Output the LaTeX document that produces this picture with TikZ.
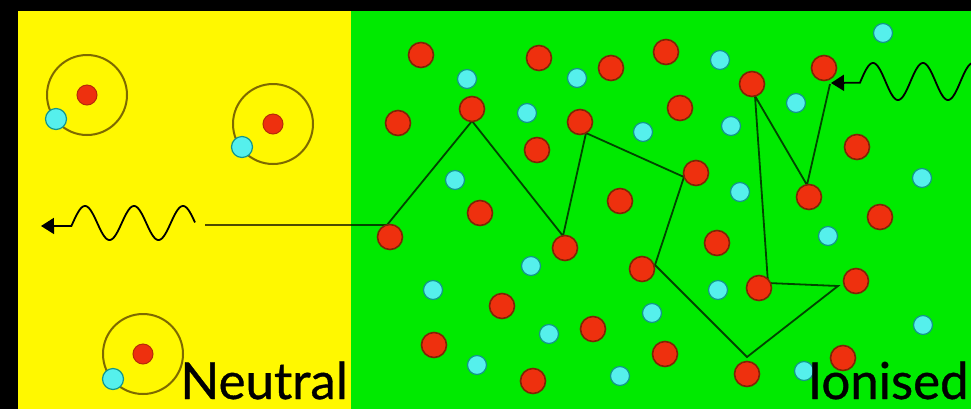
\documentclass[tikz,border=0pt]{standalone}
\usepackage{fontspec}
\setmainfont{Lato}
\newfontfamily\phasefont{Lato}[FakeBold=0.7]
\usetikzlibrary{arrows.meta}

\definecolor{panelyellow}{RGB}{255,248,0}
\definecolor{panelgreen}{RGB}{0,234,0}
\definecolor{ionred}{RGB}{238,48,14}
\definecolor{ionrim}{RGB}{125,38,5}
\definecolor{elcyan}{RGB}{85,240,236}
\definecolor{elrim}{RGB}{20,150,140}
\definecolor{orbitline}{RGB}{125,105,0}

\tikzset{
  ion/.style={circle, fill=ionred, draw=ionrim, line width=0.8pt, minimum size=12.5pt, inner sep=0pt},
  electron/.style={circle, fill=elcyan, draw=elrim, line width=0.6pt, minimum size=9.5pt, inner sep=0pt},
  nucleus/.style={circle, fill=ionred, draw=ionrim!50!ionred, line width=0.5pt, minimum size=10pt, inner sep=0pt},
  orbit/.style={draw=orbitline, line width=1pt},
  track/.style={draw=black, opacity=0.7, line width=0.9pt},
  photon/.style={draw=black, line width=0.9pt, -{Triangle[length=6.5pt,width=8pt]}},
  phasetext/.style={inner sep=0pt, font=\phasefont\fontsize{25.5}{28}\selectfont}
}

\begin{document}
\begin{tikzpicture}[x=0.5pt, y=-0.5pt]
  \useasboundingbox (0,0) rectangle (971,409);
  \clip (0,0) rectangle (971,409);
  \fill[black] (0,0) rectangle (971,409);
  \fill[panelyellow] (18,11) rectangle (351,409);
  \fill[panelgreen] (351,11) rectangle (971,409);

  % neutral atoms
  \foreach \nx/\ny/\ex/\ey [count=\i] in {87/95/56/119, 273/124/242/147, 143/354/113/379} {
    \node[nucleus] (n\i) at (\nx,\ny) {};
    \draw[orbit] (n\i) circle[radius=20pt];
    \node[electron, minimum size=10.5pt] (e\i) at (\ex,\ey) {};
  }

  % path of the photon through the plasma
  \foreach \x/\y [count=\i] in {830/84, 807/185, 755/96, 768/283, 838/286, 747/357, 655/265,
                                684/177, 586/133, 563/236, 472/121, 387/225, 205/225}
    \coordinate (h\i) at (\x,\y);
  \draw[track] (h1) \foreach \i in {2,...,13} { -- (h\i) };

  \coordinate (inTip) at (831,83);
  \coordinate (outTip) at (41,226);
  \draw[photon] plot[domain=975:860, samples=120] (\x,{81.5-18.5*cos((\x-873)*7.2)}) -- (inTip);
  \draw[photon] plot[domain=195:71.4, samples=120] (\x,{223-17*cos((\x-85)*7.347)}) -- (outTip);

  % ions and free electrons
  \foreach \x/\y [count=\i] in {421/55, 539/58, 611/68, 666/52, 398/123, 472/109, 580/122, 537/150,
                                680/108, 620/201, 480/213, 752/84, 824/68, 857/147, 696/173, 809/197,
                                880/217, 390/237, 565/248, 642/269, 502/306, 593/329, 434/345, 533/381,
                                665/354, 717/243, 759/288, 856/281, 747/374, 843/358}
    \node[ion] (r\i) at (\x,\y) {};
  \foreach \x/\y [count=\i] in {467/79, 577/78, 527/113, 643/132, 455/180, 720/60, 883/33, 796/103,
                                731/126, 740/192, 922/178, 531/266, 433/290, 549/334, 477/365, 652/313,
                                620/376, 828/236, 718/290, 923/325, 804/371}
    \node[electron] (c\i) at (\x,\y) {};

  \node[phasetext, anchor=base west] (neutral) at (180,399) {Neutral};
  \node[phasetext, anchor=base east] (ionised) at (969,399) {Ionised};
\end{tikzpicture}
\end{document}
